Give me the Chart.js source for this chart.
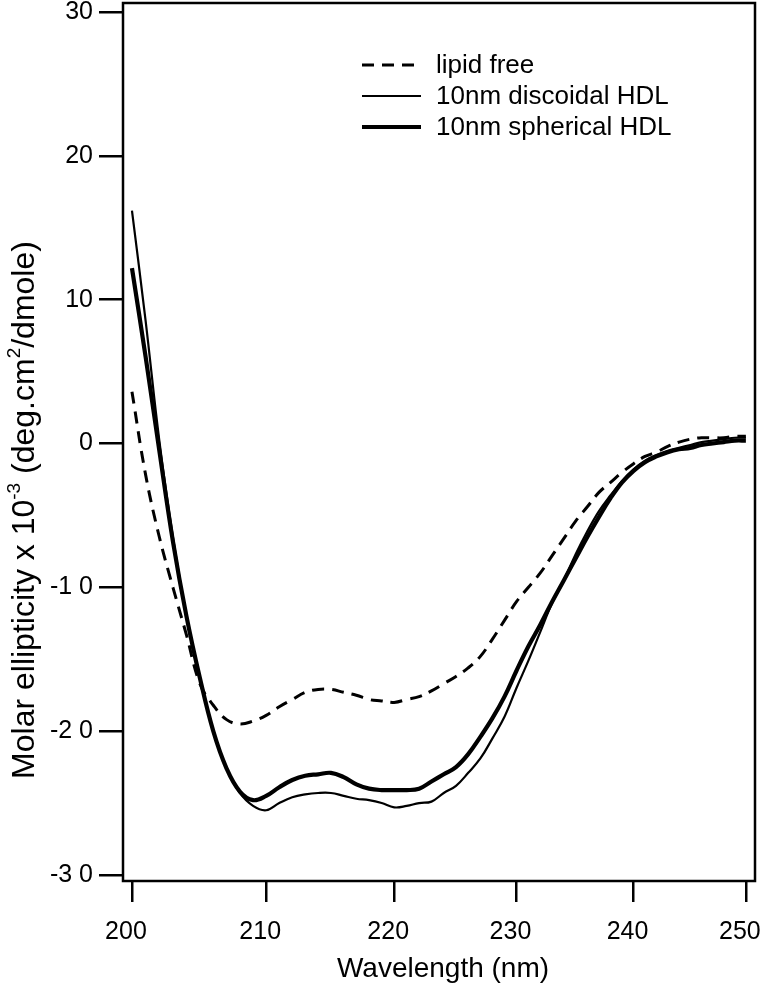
<!DOCTYPE html>
<html>
<head>
<meta charset="utf-8">
<script src="https://cdn.jsdelivr.net/npm/chart.js@4.4.1/dist/chart.umd.min.js"></script>
<style>
  html, body { margin: 0; padding: 0; background: #fff; }
  #wrap { width: 764px; height: 994px; position: relative; }
</style>
</head>
<body>
<div id="wrap"><canvas id="cdChart"></canvas></div>
<script>
// wavelength (nm), log-spaced axis like the original figure
const wavelengths = [200, 201, 202, 203, 204, 205, 206, 207, 208, 209,
                     210, 211, 212, 213, 214, 215, 216, 217, 218, 219,
                     220, 221, 222, 223, 224, 225, 226, 227, 228, 229,
                     230, 231, 232, 233, 234, 235, 236, 237, 238, 239,
                     240, 241, 242, 243, 244, 245, 246, 247, 248, 249, 250];

// molar ellipticity x 10^-3
const lipidFree = [3.6, -2.2, -6.5, -10.0, -13.3, -16.7, -18.2, -19.2, -19.5, -19.3,
                   -18.9, -18.3, -17.8, -17.3, -17.1, -17.1, -17.3, -17.5, -17.8, -17.9,
                   -18.0, -17.8, -17.6, -17.2, -16.7, -16.2, -15.6, -14.8, -13.6, -12.3,
                   -11.0, -10.0, -9.0, -7.8, -6.6, -5.4, -4.4, -3.4, -2.7, -2.0,
                   -1.4, -0.9, -0.6, -0.2, 0.1, 0.3, 0.4, 0.4, 0.4, 0.5, 0.5];

const discoidal = [16.2, 8.5, 0.2, -6.5, -12.0, -16.3, -20.0, -22.6, -24.3, -25.2,
                   -25.5, -25.0, -24.6, -24.4, -24.3, -24.3, -24.5, -24.7, -24.8, -25.0,
                   -25.3, -25.2, -25.0, -24.9, -24.3, -23.8, -22.9, -21.9, -20.5, -19.0,
                   -17.0, -15.1, -13.1, -11.1, -9.5, -7.7, -6.1, -4.7, -3.6, -2.6,
                   -1.8, -1.2, -0.8, -0.5, -0.3, -0.1, 0.1, 0.2, 0.3, 0.4, 0.4];

const spherical = [12.2, 6.0, -0.5, -6.8, -12.0, -16.3, -20.0, -22.6, -24.2, -24.8,
                   -24.5, -23.9, -23.4, -23.1, -23.0, -22.9, -23.2, -23.7, -24.0, -24.1,
                   -24.1, -24.1, -24.0, -23.5, -23.0, -22.5, -21.6, -20.4, -19.1, -17.6,
                   -15.8, -14.1, -12.6, -11.0, -9.5, -8.0, -6.5, -5.1, -3.8, -2.7,
                   -1.9, -1.3, -0.9, -0.6, -0.4, -0.3, -0.1, 0.0, 0.1, 0.2, 0.2];

const xTicks = [200, 210, 220, 230, 240, 250];
const yTicks = [-30, -20, -10, 0, 10, 20, 30];
const yTickLabels = ['-3 0', '-2 0', '-1 0', '0', '10', '20', '30'];

const seriesNames = ['lipid free', '10nm discoidal HDL', '10nm spherical HDL'];

const FONT = 'Arial, "Liberation Sans", Helvetica, sans-serif';
const toPoints = vals => wavelengths.map((w, i) => ({ x: w, y: vals[i] }));

// frame, axis titles (with superscripts) and the in-plot legend
const decorations = {
    id: 'decorations',
    afterDraw(chart) {
        const { ctx, chartArea: a } = chart;
        ctx.save();
        ctx.strokeStyle = '#000';
        ctx.lineWidth = 2.5;
        ctx.strokeRect(a.left, a.top, a.right - a.left, a.bottom - a.top);

        ctx.fillStyle = '#000';
        ctx.textBaseline = 'middle';

        // x title
        ctx.font = '28px ' + FONT;
        ctx.textAlign = 'center';
        ctx.fillText('Wavelength (nm)', (a.left + a.right) / 2 + 4, 969);

        // y title, rotated, built from pieces so the exponents sit up high
        const parts = [
            ['Molar ellipticity x 10', false], ['-3', true], [' (deg.cm', false],
            ['2', true], ['/dmole)', false]
        ];
        const big = '32px ' + FONT, small = '19px ' + FONT;
        let total = 0;
        parts.forEach(([t, sup]) => { ctx.font = sup ? small : big; total += ctx.measureText(t).width; });
        ctx.translate(25, 510);
        ctx.rotate(-Math.PI / 2);
        ctx.textAlign = 'left';
        let px = -total / 2;
        parts.forEach(([t, sup]) => {
            ctx.font = sup ? small : big;
            ctx.fillText(t, px, sup ? -10 : 0);
            px += ctx.measureText(t).width;
        });
        ctx.setTransform(1, 0, 0, 1, 0, 0);

        // legend
        const rows = [65, 96, 127];
        chart.data.datasets.forEach((ds, i) => {
            ctx.beginPath();
            ctx.lineWidth = ds.borderWidth;
            ctx.setLineDash(ds.borderDash || []);
            ctx.moveTo(362, rows[i]);
            ctx.lineTo(421, rows[i]);
            ctx.stroke();
            ctx.setLineDash([]);
            ctx.font = '26px ' + FONT;
            ctx.textAlign = 'left';
            ctx.fillText(ds.label, 436, rows[i] + 1);
        });
        ctx.restore();
    }
};

const axisGrid = len => ({
    drawOnChartArea: false,
    drawTicks: true,
    tickLength: len,
    color: '#000',
    lineWidth: 2.5
});

new Chart(document.getElementById('cdChart'), {
    type: 'line',
    data: {
        datasets: [
            { label: seriesNames[0], data: toPoints(lipidFree), borderColor: '#000',
              borderWidth: 3, borderDash: [12, 8], pointRadius: 0, tension: 0.4, fill: false },
            { label: seriesNames[1], data: toPoints(discoidal), borderColor: '#000',
              borderWidth: 2.2, pointRadius: 0, tension: 0.4, fill: false },
            { label: seriesNames[2], data: toPoints(spherical), borderColor: '#000',
              borderWidth: 4.2, pointRadius: 0, tension: 0.4, fill: false }
        ]
    },
    options: {
        responsive: true,
        maintainAspectRatio: false,
        animation: false,
        layout: { padding: { top: 3, right: 9, left: 0, bottom: 0 } },
        plugins: { legend: { display: false }, tooltip: { enabled: false } },
        scales: {
            x: {
                type: 'logarithmic',
                min: 199.35,
                max: 250.83,
                afterBuildTicks: axis => { axis.ticks = xTicks.map(v => ({ value: v })); },
                afterFit: s => { s.height = 113; s.paddingLeft = 0; s.paddingRight = 0; },
                border: { display: false },
                grid: axisGrid(21),
                ticks: {
                    autoSkip: false, maxRotation: 0, padding: 15, labelOffset: -6,
                    color: '#000', font: { family: FONT, size: 25 },
                    callback: v => String(v)
                }
            },
            y: {
                type: 'linear',
                min: -30.42,
                max: 30.63,
                afterBuildTicks: axis => { axis.ticks = yTicks.map(v => ({ value: v })); },
                afterFit: s => { s.width = 123; s.paddingTop = 0; s.paddingBottom = 0; },
                border: { display: false },
                grid: axisGrid(24),
                ticks: {
                    autoSkip: false, padding: 6,
                    color: '#000', font: { family: FONT, size: 25 },
                    callback: v => yTickLabels[yTicks.indexOf(v)]
                }
            }
        }
    },
    plugins: [decorations]
});
</script>
</body>
</html>
